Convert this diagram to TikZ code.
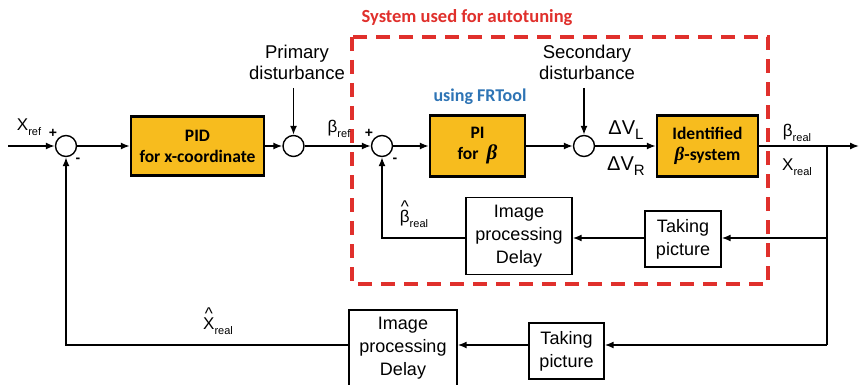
\documentclass[tikz,border=0pt]{standalone}
\usepackage{fontspec}
\setmainfont{Liberation Sans}
\newfontfamily\calfont{Carlito}
\newfontfamily\serifb{Liberation Serif}
\usetikzlibrary{arrows.meta}
\definecolor{boxy}{HTML}{F7BC1E}
\definecolor{redd}{HTML}{E0302C}
\definecolor{bluu}{HTML}{2E74B5}
\newcommand\subx[1]{\raisebox{-0.5ex}{\fontsize{11}{11}\selectfont #1}}
\newcommand\hatof[1]{\ooalign{\hfil\raisebox{0.6em}{\^{}}\hfil\cr #1\cr}}
\newcommand\bbeta{{\serifb\bfseries\itshape β}}
\begin{document}
\begin{tikzpicture}[x=1pt,y=-1pt,
  ln/.style={line width=1.5pt},
  arr/.style={line width=1.5pt,-{Latex[length=9pt,width=7pt]}},
  ybox/.style={draw,line width=2.4pt,fill=boxy,align=center,inner sep=0pt,font=\calfont\bfseries\fontsize{17.5}{21}\selectfont},
  wbox/.style={draw,line width=1.4pt,fill=white,align=center,inner sep=0pt,font=\fontsize{18}{23}\selectfont},
  sumc/.style={circle,draw,line width=1.4pt,minimum size=21pt,inner sep=0pt},
  lab/.style={font=\fontsize{17}{20}\selectfont,inner sep=0pt},
  dist/.style={font=\fontsize{18.5}{21}\selectfont,align=center,inner sep=0pt},
  sgn/.style={font=\bfseries\fontsize{14}{14}\selectfont,inner sep=0pt}
]
\useasboundingbox (0,0) rectangle (861,385);
\fill[white] (0,0) rectangle (861,385);

% autotuning region
\draw[redd,line width=3.8pt,dash pattern=on 14pt off 9pt] (352,37) rectangle (768,284);
\node[text=redd,font=\calfont\bfseries\fontsize{18.5}{20}\selectfont,inner sep=0pt] (ttl) at (467,18) {System used for autotuning};
\node[text=bluu,font=\calfont\bfseries\fontsize{18}{20}\selectfont,inner sep=0pt] (frt) at (480,97) {using FRTool};

% blocks
\node[sumc] (s1) at (66,146) {};
\node[ybox,minimum width=133pt,minimum height=59pt] (pid) at (197.5,146) {PID\\for x-coordinate};
\node[sumc] (s2) at (293.5,146) {};
\node[sumc] (s3) at (382,146) {};
\node[ybox,minimum width=95pt,minimum height=61pt] (pi) at (477.5,146) {PI\\for\ \ \fontsize{21}{21}\selectfont\bbeta};
\node[sumc] (s4) at (584,146) {};
\node[ybox,minimum width=101pt,minimum height=61pt] (idn) at (707.5,146) {Identified\\{\fontsize{19}{21}\selectfont\bbeta}-system};
\node[wbox,minimum width=76pt,minimum height=56pt] (tp1) at (683,239) {Taking\\picture};
\node[wbox,minimum width=106pt,minimum height=77pt] (ip1) at (519,236) {Image\\processing\\Delay};
\node[wbox,minimum width=75pt,minimum height=56pt] (tp2) at (566.5,351) {Taking\\picture};
\node[wbox,minimum width=108pt,minimum height=76pt] (ip2) at (403,348) {Image\\processing\\Delay};

% coordinates
\coordinate (in) at (8,146);
\coordinate (out) at (859,146);
\coordinate (br) at (827,146);
\coordinate (br1) at (827,238);
\coordinate (br2) at (827,345);
\coordinate (d1) at (293.5,88);
\coordinate (d2) at (584,88);

% forward path
\draw[arr] (in) -- (s1);
\draw[arr] (s1) -- (pid);
\draw[arr] (pid) -- (s2);
\draw[arr] (s2) -- (s3);
\draw[arr] (s3) -- (pi);
\draw[arr] (pi) -- (s4);
\draw[arr] (s4) -- (idn);
\draw[arr] (idn) -- (out);
\draw[arr] (d1) -- (s2);
\draw[arr] (d2) -- (s4);

% feedback paths
\draw[ln] (br) -- (br2);
\draw[arr] (br1) -- (br1 -| tp1.east);
\draw[arr] (tp1.west |- br1) -- (ip1.east |- br1);
\draw[arr] (ip1.west |- br1) -| (s3);
\draw[arr] (br2) -- (br2 -| tp2.east);
\draw[arr] (tp2.west |- br2) -- (ip2.east |- br2);
\draw[arr] (ip2.west |- br2) -| (s1);

% labels
\node[dist] (pdl) at (297,62) {Primary\\disturbance};
\node[dist] (sdl) at (587,62) {Secondary\\disturbance};
\node[lab] (xref) at (29,127) {X\subx{ref}};
\node[lab] (bref) at (339,129) {β\subx{ref}};
\node[lab,font=\fontsize{20}{22}\selectfont] (dvl) at (626,130) {ΔV\raisebox{-0.45ex}{\fontsize{15}{15}\selectfont L}};
\node[lab,font=\fontsize{20}{22}\selectfont] (dvr) at (626,166) {ΔV\raisebox{-0.45ex}{\fontsize{15}{15}\selectfont R}};
\node[lab] (breal) at (797,133) {β\subx{real}};
\node[lab] (xreal) at (797,167) {X\subx{real}};
\node[lab] (bhat) at (414,214) {\hatof{β}\subx{real}};
\node[lab] (xhat) at (218,321) {\hatof{X}\subx{real}};
\node[sgn] (p1) at (53,133) {+};
\node[sgn] (m1) at (78,160) {-};
\node[sgn] (p3) at (369,133) {+};
\node[sgn] (m3) at (395,160) {-};
\end{tikzpicture}
\end{document}
